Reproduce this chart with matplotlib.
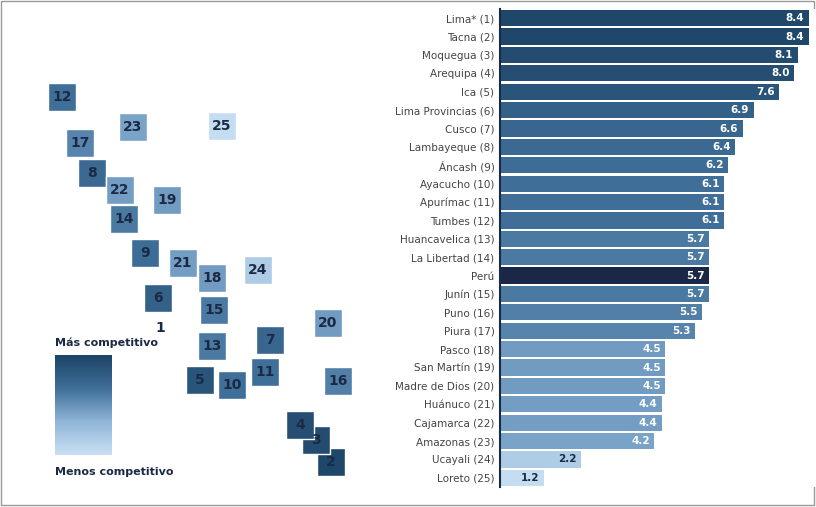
import numpy as np
import matplotlib.pyplot as plt
from matplotlib.colors import LinearSegmentedColormap, Normalize
from matplotlib.patches import Rectangle

regions = ["Lima* (1)", "Tacna (2)", "Moquegua (3)", "Arequipa (4)", "Ica (5)",
           "Lima Provincias (6)", "Cusco (7)", "Lambayeque (8)", "Áncash (9)",
           "Ayacucho (10)", "Apurímac (11)", "Tumbes (12)", "Huancavelica (13)",
           "La Libertad (14)", "Perú", "Junín (15)", "Puno (16)", "Piura (17)",
           "Pasco (18)", "San Martín (19)", "Madre de Dios (20)", "Huánuco (21)",
           "Cajamarca (22)", "Amazonas (23)", "Ucayali (24)", "Loreto (25)"]
scores = [8.4, 8.4, 8.1, 8.0, 7.6, 6.9, 6.6, 6.4, 6.2, 6.1, 6.1, 6.1, 5.7,
          5.7, 5.7, 5.7, 5.5, 5.3, 4.5, 4.5, 4.5, 4.4, 4.4, 4.2, 2.2, 1.2]

# approximate map label positions (pixels) for ranks 1..25
map_rank = list(range(1, 26))
map_x = [160, 331, 316, 300, 200, 158, 270, 92, 145, 232, 265, 62, 212, 124,
         214, 338, 80, 212, 167, 328, 183, 120, 133, 258, 222]
map_y = [328, 462, 440, 425, 380, 298, 340, 173, 253, 385, 372, 97, 346, 219,
         310, 381, 143, 278, 200, 323, 263, 190, 127, 270, 126]

cmap = LinearSegmentedColormap.from_list("comp", ["#c9e0f3", "#8fb5d8", "#3f6f99", "#1d4466"])
norm = Normalize(1.0, 8.6)

W, H = 816, 507
fig = plt.figure(figsize=(W / 100, H / 100), dpi=100)

# left panel: schematic map labels + legend
axm = fig.add_axes([0, 0, 1, 1])
axm.set_xlim(0, W)
axm.set_ylim(H, 0)
axm.axis("off")
axm.add_patch(Rectangle((1, 1), W - 3, H - 3, fill=False, edgecolor="#999999", lw=1))
region_scores = {}
for lab, s in zip(regions, scores):
    if "(" in lab:
        region_scores[int(lab.split("(")[1].rstrip(")"))] = s
for r, x, y in zip(map_rank, map_x, map_y):
    if r != 1:
        axm.scatter(x, y, s=420, marker="s", color=cmap(norm(region_scores[r])),
                    edgecolors="white", linewidths=1, zorder=2)
    axm.text(x, y, str(r), ha="center", va="center", fontsize=10,
             fontweight="bold", color="#1b2a44", zorder=3)
grad = np.linspace(1, 0, 100).reshape(-1, 1)
axm.imshow(grad, cmap=cmap, extent=(55, 112, 455, 355), aspect="auto", zorder=1)
axm.text(55, 343, "Más competitivo", fontsize=8, fontweight="bold", color="#1b2a44", va="center")
axm.text(55, 472, "Menos competitivo", fontsize=8, fontweight="bold", color="#1b2a44", va="center")

# right panel: bars
ax = fig.add_axes([500 / W, 1 - 487 / H, 316 / W, 478 / H])
y = np.arange(len(regions))
colors = ["#1b2746" if r == "Perú" else cmap(norm(s)) for r, s in zip(regions, scores)]
ax.barh(y, scores, height=0.88, color=colors, edgecolor="none")
for yi, s in zip(y, scores):
    dark = s < 3
    ax.text(s - 0.12, yi, f"{s:.1f}", ha="right", va="center", fontsize=7.5,
            fontweight="bold", color="#1b2a44" if dark else "white")
ax.set_yticks(y)
ax.set_yticklabels(regions, fontsize=7.5, color="#444444")
ax.set_ylim(len(regions) - 0.5, -0.5)
ax.set_xlim(0, 8.6)
ax.set_xticks([])
for sp in ["top", "right", "bottom"]:
    ax.spines[sp].set_visible(False)
ax.spines["left"].set_color("#1b2a44")
ax.spines["left"].set_linewidth(1.5)
ax.tick_params(axis="y", length=0, pad=4)

fig.savefig("out.png", dpi=100)
